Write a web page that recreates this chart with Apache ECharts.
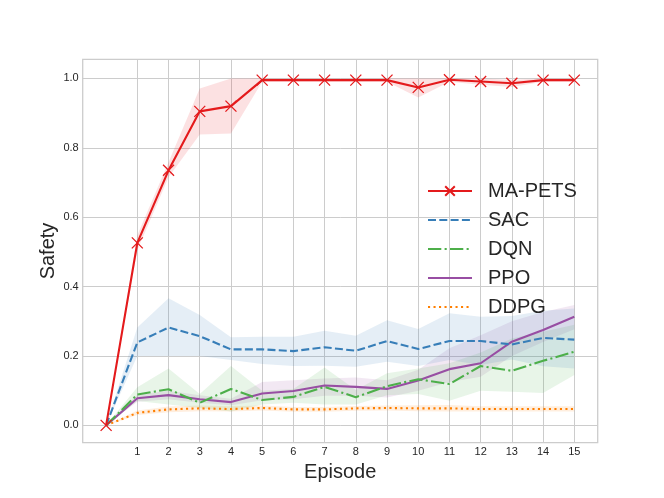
<!DOCTYPE html>
<html>
<head>
<meta charset="utf-8">
<script src="https://cdn.jsdelivr.net/npm/echarts@6/dist/echarts.min.js"></script>
<style>
html,body{margin:0;padding:0;background:#fff;}
#chart{width:664px;height:498px;}
</style>
</head>
<body>
<div id="chart"></div>
<script>
var episodes = [0,1,2,3,4,5,6,7,8,9,10,11,12,13,14,15];
var xTickValues = [1,2,3,4,5,6,7,8,9,10,11,12,13,14,15];
var yTickValues = [0, 0.2, 0.4, 0.6, 0.8, 1.0];

var mapetsMean = [0, 0.526, 0.735, 0.905, 0.92, 0.995, 0.995, 0.995, 0.995, 0.995, 0.974, 0.996, 0.991, 0.986, 0.995, 0.995];
var mapetsLow  = [0, 0.505, 0.715, 0.838, 0.841, 0.99, 0.99, 0.99, 0.99, 0.99, 0.945, 0.99, 0.982, 0.975, 0.99, 0.99];
var mapetsHigh = [0, 0.548, 0.758, 0.971, 1.0, 1.0, 1.0, 1.0, 1.0, 1.0, 1.0, 1.0, 1.0, 0.996, 1.0, 1.0];

var sacMean = [0, 0.239, 0.282, 0.257, 0.219, 0.219, 0.214, 0.225, 0.215, 0.243, 0.22, 0.243, 0.243, 0.233, 0.252, 0.247];
var sacLow  = [0, 0.2, 0.2, 0.2, 0.188, 0.177, 0.171, 0.172, 0.169, 0.183, 0.171, 0.188, 0.174, 0.19, 0.17, 0.164];
var sacHigh = [0, 0.282, 0.366, 0.318, 0.254, 0.255, 0.255, 0.273, 0.258, 0.303, 0.278, 0.323, 0.313, 0.315, 0.33, 0.337];

var dqnMean = [0, 0.089, 0.104, 0.065, 0.105, 0.073, 0.082, 0.111, 0.081, 0.113, 0.133, 0.119, 0.171, 0.157, 0.186, 0.212];
var dqnLow  = [0, 0.07, 0.06, 0.05, 0.04, 0.06, 0.065, 0.06, 0.06, 0.087, 0.09, 0.071, 0.1, 0.097, 0.093, 0.145];
var dqnHigh = [0, 0.11, 0.164, 0.09, 0.171, 0.1, 0.105, 0.167, 0.102, 0.15, 0.164, 0.179, 0.21, 0.25, 0.27, 0.29];

var ppoMean = [0, 0.078, 0.087, 0.075, 0.067, 0.092, 0.099, 0.115, 0.111, 0.105, 0.129, 0.162, 0.179, 0.241, 0.275, 0.313];
var ppoLow  = [0, 0.068, 0.075, 0.065, 0.058, 0.072, 0.075, 0.085, 0.085, 0.08, 0.1, 0.125, 0.14, 0.2, 0.24, 0.277];
var ppoHigh = [0, 0.088, 0.1, 0.087, 0.077, 0.125, 0.13, 0.135, 0.138, 0.13, 0.16, 0.222, 0.26, 0.3, 0.327, 0.347];

var ddpgMean = [0, 0.036, 0.046, 0.049, 0.047, 0.05, 0.046, 0.046, 0.049, 0.05, 0.049, 0.049, 0.047, 0.047, 0.047, 0.047];
var ddpgLow  = [0, 0.03, 0.038, 0.041, 0.04, 0.043, 0.039, 0.039, 0.042, 0.043, 0.041, 0.04, 0.04, 0.04, 0.04, 0.04];
var ddpgHigh = [0, 0.043, 0.054, 0.057, 0.055, 0.057, 0.053, 0.053, 0.056, 0.057, 0.058, 0.059, 0.055, 0.055, 0.055, 0.055];

var legendNames = ['MA-PETS', 'SAC', 'DQN', 'PPO', 'DDPG'];

var FONT = "'Liberation Sans', Arial, sans-serif";
var TXT = '#262626';

function pairs(xs, ys) { return xs.map(function (x, i) { return [x, ys[i]]; }); }

function band(name, low, high, color) {
  return {
    type: 'custom',
    name: name + ' band',
    clip: true,
    silent: true,
    z: 1,
    encode: { x: 0, y: 1 },
    data: episodes.map(function (x, i) { return [x, low[i], high[i]]; }),
    renderItem: function (params, api) {
      if (params.dataIndex !== 0) return null;
      var pts = [];
      for (var i = 0; i < episodes.length; i++) pts.push(api.coord([episodes[i], high[i]]));
      for (var j = episodes.length - 1; j >= 0; j--) pts.push(api.coord([episodes[j], low[j]]));
      return {
        type: 'polygon',
        shape: { points: pts },
        style: { fill: color, opacity: 0.13, stroke: null }
      };
    }
  };
}

function line(name, ys, color, dash, z) {
  return {
    type: 'line',
    name: name,
    data: pairs(episodes, ys),
    symbol: 'none',
    z: z,
    color: color,
    lineStyle: { color: color, width: 2.1, type: dash }
  };
}

var xMark = 'path://M0,0L10,10M10,0L0,10';

var option = {
  animation: false,
  backgroundColor: '#ffffff',
  textStyle: { fontFamily: FONT },
  grid: {
    left: 82.7, top: 59.3, right: 66.3, bottom: 55.3,
    show: true, borderColor: '#cccccc', borderWidth: 1.3, backgroundColor: 'transparent',
    containLabel: false
  },
  xAxis: {
    type: 'value',
    min: -0.75, max: 15.75,
    name: 'Episode',
    nameLocation: 'middle',
    nameGap: 20,
    nameMoveOverlap: false,
    nameTextStyle: { color: TXT, fontSize: 20, fontFamily: FONT },
    axisLine: { show: false },
    axisTick: { show: false, customValues: xTickValues },
    axisLabel: { customValues: xTickValues, color: TXT, fontSize: 11, margin: 4, fontFamily: FONT },
    splitLine: { show: true, lineStyle: { color: '#cccccc', width: 1 } }
  },
  yAxis: {
    type: 'value',
    min: -0.05, max: 1.055,
    name: 'Safety',
    nameLocation: 'middle',
    nameGap: 24,
    nameMoveOverlap: false,
    nameTextStyle: { color: TXT, fontSize: 20, fontFamily: FONT },
    axisLine: { show: false },
    axisTick: { show: false, customValues: yTickValues },
    axisLabel: {
      customValues: yTickValues, color: TXT, fontSize: 11, margin: 4, fontFamily: FONT,
      formatter: function (v) { return v.toFixed(1); }
    },
    splitLine: { show: true, lineStyle: { color: '#cccccc', width: 1 } }
  },
  legend: {
    orient: 'vertical',
    left: 427, top: 181,
    padding: 0,
    itemWidth: 44, itemHeight: 12,
    itemGap: 9,
    data: legendNames.map(function (n, i) {
      return i === 0 ? { name: n } : { name: n, itemStyle: { opacity: 0 } };
    }),
    textStyle: { color: TXT, fontSize: 20, fontFamily: FONT, padding: [0, 0, 0, 11] },
    selectedMode: false
  },
  series: [
    band('DDPG', ddpgLow, ddpgHigh, '#ff7f00'),
    band('PPO', ppoLow, ppoHigh, '#984ea3'),
    band('DQN', dqnLow, dqnHigh, '#4daf4a'),
    band('SAC', sacLow, sacHigh, '#377eb8'),
    band('MA-PETS', mapetsLow, mapetsHigh, '#e41a1c'),
    line('DDPG', ddpgMean, '#ff7f00', [2.1, 3.4], 3),
    line('PPO', ppoMean, '#984ea3', 'solid', 4),
    line('DQN', dqnMean, '#4daf4a', [13.3, 3.3, 2.1, 3.3], 5),
    line('SAC', sacMean, '#377eb8', [8, 3.3], 6),
    {
      type: 'line',
      name: 'MA-PETS',
      data: pairs(episodes, mapetsMean),
      z: 8,
      color: '#e41a1c',
      symbol: xMark,
      symbolSize: 11,
      showSymbol: true,
      itemStyle: { color: 'rgba(0,0,0,0)', borderColor: '#e41a1c', borderWidth: 1.3 },
      lineStyle: { color: '#e41a1c', width: 2.1 }
    }
  ]
};

var chart = echarts.init(document.getElementById('chart'), null, { renderer: 'canvas' });
chart.setOption(option);
</script>
</body>
</html>
